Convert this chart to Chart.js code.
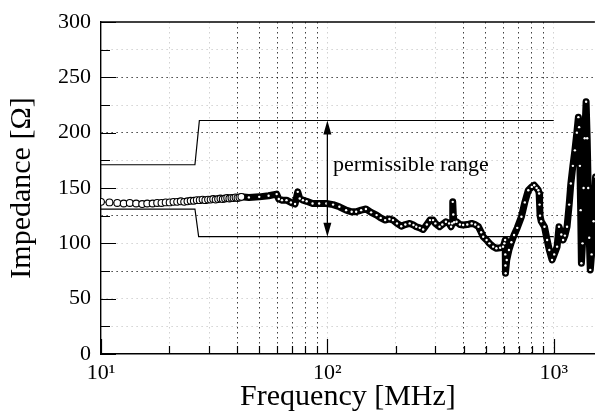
<!DOCTYPE html>
<html>
<head>
<meta charset="utf-8">
<script src="https://cdn.jsdelivr.net/npm/chart.js@4"></script>
<style>
  html, body { margin: 0; padding: 0; background: #fff; overflow: hidden; }
  #wrap { width: 595px; height: 417px; overflow: hidden; }
</style>
</head>
<body>
<div id="wrap"><canvas id="impChart" width="600" height="417"></canvas></div>
<script>
const freq = [
  10, 10.9, 11.8, 12.6, 13.4, 14.3, 15.2, 16, 16.9, 17.7,
  18.5, 19.3, 20.1, 20.9, 21.7, 22.5, 23.3, 24.1, 24.9, 25.7,
  26.5, 27.3, 28.1, 28.9, 29.7, 30.5, 31.3, 32.1, 32.9, 33.7,
  34.5, 35.3, 36.1, 36.9, 37.7, 38.5, 39.3, 40.1, 40.9, 41.7,
  45, 50, 55, 59.7, 61, 63, 66, 69, 72, 74,
  75.5, 78, 81, 86, 92, 99, 106, 113, 121, 128,
  134, 141, 148, 156, 165, 172, 180, 188, 195, 203,
  212, 221, 231, 240, 247, 256, 265, 275, 284, 293,
  300, 313, 322, 334, 345, 352, 356, 358, 360, 363,
  372, 385, 398, 415, 434, 450, 465, 478, 488, 505,
  520, 540, 558, 580, 597, 605, 610, 611, 612, 613,
  620, 634, 650, 668, 690, 720, 745, 772, 800, 820,
  840, 855, 862, 866, 870, 880, 910, 935, 956, 983,
  1005, 1035, 1055, 1080, 1100, 1120, 1145, 1170, 1190, 1215,
  1240, 1265, 1285, 1295, 1305, 1315, 1325, 1340, 1355, 1370,
  1390, 1405, 1420, 1435, 1450, 1470, 1500, 1530
];
const impedance = [
  137.5, 137, 136.5, 136, 136.5, 136, 135.5, 136, 136, 136.5,
  136.5, 137, 137, 137.5, 137.5, 138, 137.5, 138, 138.5, 138.5,
  139, 139, 139.5, 139, 139.5, 139.5, 140, 139.5, 140, 140.5,
  140, 140.5, 141, 140.5, 141, 141, 141.5, 141, 141.5, 142,
  141.5, 142, 143, 144.5, 140, 139, 139, 137, 135.5, 146.5,
  140.5, 139, 138, 136, 136, 136, 135, 133, 130, 128.5,
  128.5, 130, 131, 128, 125.5, 123, 121, 122, 121, 118,
  115.5, 117, 118, 116.5, 115, 114, 112.5, 117, 121, 121,
  118, 115, 117, 119.5, 118, 115, 118, 137.5, 126, 119,
  119.5, 117, 116.5, 117, 118, 117, 115, 110, 106, 103,
  100, 97, 95.5, 96, 97, 100, 103, 90, 80, 73,
  85, 94, 101, 107.5, 114, 124, 137, 148, 151, 152.5,
  150, 148, 145, 135, 125, 120, 115, 103, 94, 85,
  90, 97, 115, 108, 103, 107, 115, 135, 154, 170,
  184, 200, 214, 205, 170, 130, 82, 100, 150, 195,
  228, 195, 150, 105, 76, 90, 120, 160
];

// limits of the permissible range
const upperFreq = [10, 26, 27.2, 1000];
const upperZ = [171, 171, 211, 211];
const lowerFreq = [10, 26, 27, 1000];
const lowerZ = [131, 131, 106, 106];

// arrow and its label
const arrowFreq = 100;
const arrowTop = 211;
const arrowBottom = 106;
const rangeLabel = 'permissible range';
const rangeLabelFreq = 106;
const rangeLabelZ = 171;

// axes
const xTicks = [10, 20, 30, 40, 50, 60, 70, 80, 90, 100, 200, 300, 400, 500, 600, 700, 800, 900, 1000];
const xTickLabels = { 10: '10¹', 100: '10²', 1000: '10³' };
const xGridStrong = [40, 50, 60, 70, 80, 90, 400, 500, 600, 700, 800, 900];
const yGridStrong = [75, 125, 200, 250];

const serif = 'Liberation Serif';
const pts = (xs, ys) => xs.map((v, i) => ({ x: v, y: ys[i] }));
const denseFrom = 43;

const extras = {
  id: 'extras',
  afterDraw(chart) {
    const { ctx, chartArea: a, scales: { x, y } } = chart;
    ctx.save();
    ctx.strokeStyle = '#000';
    ctx.fillStyle = '#000';
    ctx.lineWidth = 1.4;
    ctx.beginPath();
    ctx.moveTo(a.left, a.top);
    ctx.lineTo(a.right, a.top);
    ctx.stroke();

    // inward tick marks
    ctx.lineWidth = 1.2;
    ctx.beginPath();
    y.ticks.forEach(t => {
      const py = Math.round(y.getPixelForValue(t.value)) + 0.5;
      const len = t.value % 50 === 0 ? 15 : 9;
      ctx.moveTo(a.left, py);
      ctx.lineTo(a.left + len, py);
    });
    x.ticks.forEach(t => {
      const px = Math.round(x.getPixelForValue(t.value)) + 0.5;
      const len = xTickLabels[t.value] ? 15 : 8;
      ctx.moveTo(px, a.bottom);
      ctx.lineTo(px, a.bottom - len);
    });
    ctx.stroke();

    // double arrow
    const ax = x.getPixelForValue(arrowFreq);
    const at = y.getPixelForValue(arrowTop);
    const ab = y.getPixelForValue(arrowBottom);
    ctx.lineWidth = 1.3;
    ctx.beginPath();
    ctx.moveTo(ax, at + 8);
    ctx.lineTo(ax, ab - 8);
    ctx.stroke();
    ctx.beginPath();
    ctx.moveTo(ax, at);
    ctx.lineTo(ax - 4, at + 14);
    ctx.lineTo(ax + 4, at + 14);
    ctx.closePath();
    ctx.moveTo(ax, ab);
    ctx.lineTo(ax - 4, ab - 14);
    ctx.lineTo(ax + 4, ab - 14);
    ctx.closePath();
    ctx.fill();

    ctx.font = '22px "' + serif + '"';
    ctx.textAlign = 'left';
    ctx.textBaseline = 'middle';
    ctx.fillText(rangeLabel, x.getPixelForValue(rangeLabelFreq), y.getPixelForValue(rangeLabelZ));
    ctx.restore();
  }
};

new Chart(document.getElementById('impChart'), {
  type: 'scatter',
  data: {
    datasets: [
      {
        data: pts(freq, impedance),
        showLine: true,
        borderColor: '#000',
        borderWidth: 1,
        borderJoinStyle: 'round',
        borderCapStyle: 'round',
        segment: {
          borderWidth: c => c.p0.parsed.x >= denseFrom - 2 ? 7 : 1
        },
        pointRadius: c => (c.raw && c.raw.x < denseFrom) ? 3.4 : 1.2,
        pointBorderWidth: c => (c.raw && c.raw.x < denseFrom) ? 1.1 : 0,
        pointBackgroundColor: '#fff',
        pointBorderColor: '#000'
      },
      {
        data: pts(upperFreq, upperZ),
        showLine: true,
        borderColor: '#000',
        borderWidth: 1.2,
        pointRadius: 0
      },
      {
        data: pts(lowerFreq, lowerZ),
        showLine: true,
        borderColor: '#000',
        borderWidth: 1.2,
        pointRadius: 0
      }
    ]
  },
  options: {
    responsive: false,
    animation: false,
    devicePixelRatio: 1,
    layout: { padding: { top: 22, right: 0, left: 0, bottom: 0 } },
    plugins: { legend: { display: false }, tooltip: { enabled: false } },
    scales: {
      x: {
        type: 'logarithmic',
        min: 10,
        max: 1520,
        afterBuildTicks: axis => { axis.ticks = xTicks.map(v => ({ value: v })); },
        afterFit: axis => {
          axis.height = 63;
          axis.paddingLeft = 0;
          axis.paddingRight = 0;
        },
        ticks: {
          autoSkip: false,
          maxRotation: 0,
          padding: 6,
          color: '#000',
          font: { family: serif, size: 22 },
          callback: v => xTickLabels[v] || ''
        },
        grid: {
          drawTicks: false,
          lineWidth: 1,
          color: c => {
            const v = c.tick && c.tick.value;
            if (v === 10) return 'rgba(0,0,0,0)';
            return xGridStrong.includes(v) ? 'rgba(0,0,0,0.75)' : 'rgba(0,0,0,0.18)';
          }
        },
        border: { display: true, color: '#000', width: 1.4, dash: [1.5, 3.5] },
        title: {
          display: true,
          text: 'Frequency [MHz]',
          color: '#000',
          font: { family: serif, size: 30 },
          padding: { top: 0, bottom: 2 }
        }
      },
      y: {
        min: 0,
        max: 300,
        afterFit: axis => {
          axis.width = 101;
          axis.paddingTop = 0;
        },
        ticks: {
          stepSize: 25,
          autoSkip: false,
          padding: 10,
          color: '#000',
          font: { family: serif, size: 22 },
          callback: v => v % 50 === 0 ? v : ''
        },
        grid: {
          drawTicks: false,
          lineWidth: 1,
          color: c => {
            const v = c.tick && c.tick.value;
            if (v === 0 || v === 300) return 'rgba(0,0,0,0)';
            return yGridStrong.includes(v) ? 'rgba(0,0,0,0.75)' : 'rgba(0,0,0,0.18)';
          }
        },
        border: { display: true, color: '#000', width: 1.4, dash: [1.5, 3.5] },
        title: {
          display: true,
          text: 'Impedance [Ω]',
          color: '#000',
          font: { family: serif, size: 30 },
          padding: { top: 4, bottom: 0 }
        }
      }
    }
  },
  plugins: [extras]
});
</script>
</body>
</html>
